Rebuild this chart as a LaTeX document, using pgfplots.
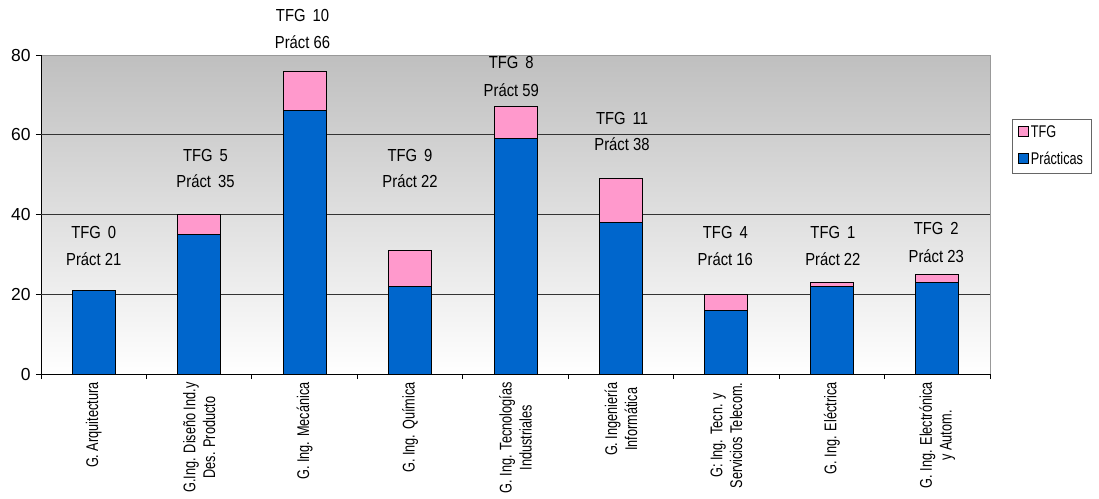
\documentclass[border=0pt]{standalone}
\usepackage{fontspec}
\setmainfont{Liberation Sans}
\newfontfamily\narrowA[FakeStretch=0.75]{Liberation Sans}
\newfontfamily\narrowB[FakeStretch=0.85]{Liberation Sans}
\usepackage{pgfplots}
\pgfplotsset{compat=1.18}
\definecolor{pract}{RGB}{0,102,204}
\definecolor{tfg}{RGB}{255,153,204}
\newcommand\lab{\narrowB\fontsize{17.5}{20}\selectfont}

\begin{document}
\begin{tikzpicture}
\begin{axis}[
    width=949bp, height=319bp, scale only axis,
    ybar stacked, bar width=43bp,
    xmin=-0.5, xmax=8.5, ymin=0, ymax=80,
    clip=false,
    axis background/.style={top color=black!25, bottom color=white, draw=black!40},
    axis x line*=bottom, axis y line*=left,
    axis line style={black, line width=0.8bp},
    xtick={0,...,8},
    xticklabels={G. Arquitectura, {G.Ing. Diseño Ind.y\\Des. Producto}, G. Ing. Mecánica,
        G. Ing. Química, {G. Ing. Tecnologías\\Industriales}, {G. Ingeniería\\Informática},
        {G: Ing. Tecn. y\\Servicios Telecom.}, G. Ing. Eléctrica, {G. Ing. Electrónica\\y Autom.}},
    major x tick style={draw=none},
    minor xtick={-0.5,0.5,...,8.5},
    minor x tick style={black, line width=0.8bp},
    tick align=outside, major tick length=5bp, minor tick length=5bp,
    xticklabel style={rotate=90, anchor=east, align=center,
        font=\narrowA\fontsize{17}{20}\selectfont},
    ytick={0,20,40,60,80},
    y tick style={black, line width=0.8bp},
    yticklabel style={font=\fontsize{17.5}{20}\selectfont, xshift=-2bp},
    /pgf/number format/assume math mode=true,
    extra y ticks={20,40,60}, extra y tick labels={},
    extra y tick style={grid=major},
    grid style={black!80, line width=0.8bp},
    legend style={at={(1.023,0.80)}, anchor=north west, draw=black!60, fill=white,
        font=\narrowA\fontsize{17}{20}\selectfont, row sep=9bp, inner xsep=6bp, inner ysep=5bp,
        legend cell align=left},
    reverse legend,
    legend image code/.code={\draw[#1, draw=black, line width=0.8bp] (0bp,-4bp) rectangle (10bp,6bp);},
]
\addplot[fill=pract, draw=black, line width=0.8bp] coordinates {
    (0,21) (1,35) (2,66) (3,22) (4,59) (5,38) (6,16) (7,22) (8,23)};
\addplot[fill=tfg, draw=black, line width=0.8bp] coordinates {
    (0,0) (1,5) (2,10) (3,9) (4,8) (5,11) (6,4) (7,1) (8,2)};
\legend{Prácticas, TFG}

% text boxes over the bars
\node[font=\lab] at (axis cs:0,35.6) {TFG\hspace{0.4em}0};
\node[font=\lab] at (axis cs:0,28.8) {Práct 21};
\node[font=\lab] at (axis cs:1.06,54.9) {TFG\hspace{0.4em}5};
\node[font=\lab] at (axis cs:1.06,48.4) {Práct\hspace{0.4em}35};
\node[font=\lab] at (axis cs:1.98,90.0) {TFG\hspace{0.4em}10};
\node[font=\lab] at (axis cs:1.98,83.3) {Práct 66};
\node[font=\lab] at (axis cs:3,54.9) {TFG\hspace{0.4em}9};
\node[font=\lab] at (axis cs:3,48.4) {Práct 22};
\node[font=\lab] at (axis cs:3.96,78.0) {TFG\hspace{0.4em}8};
\node[font=\lab] at (axis cs:3.96,71.2) {Práct 59};
\node[font=\lab] at (axis cs:5.01,64.2) {TFG\hspace{0.4em}11};
\node[font=\lab] at (axis cs:5.01,57.7) {Práct 38};
\node[font=\lab] at (axis cs:5.99,35.6) {TFG\hspace{0.4em}4};
\node[font=\lab] at (axis cs:5.99,28.8) {Práct 16};
\node[font=\lab] at (axis cs:7.01,35.6) {TFG\hspace{0.4em}1};
\node[font=\lab] at (axis cs:7.01,28.8) {Práct 22};
\node[font=\lab] at (axis cs:7.99,36.4) {TFG\hspace{0.4em}2};
\node[font=\lab] at (axis cs:7.99,29.6) {Práct 23};
\end{axis}
\pgfresetboundingbox
\path[use as bounding box] (-41bp,-125bp) rectangle (1058bp,374bp);
\end{tikzpicture}
\end{document}
